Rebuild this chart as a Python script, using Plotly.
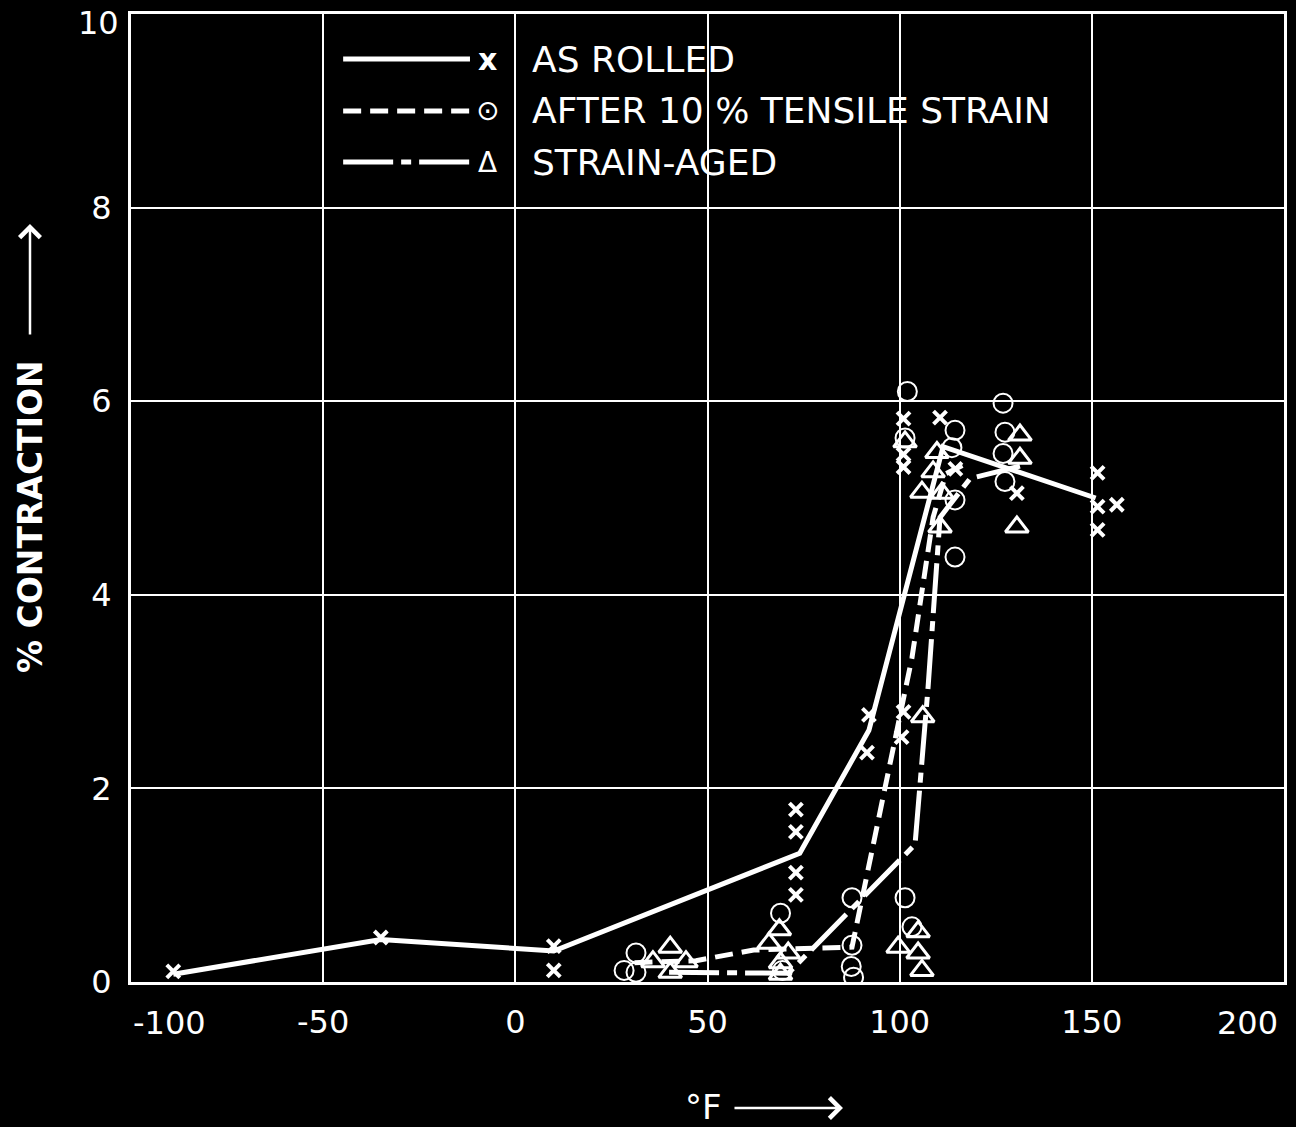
import plotly.graph_objects as go

# Axis ticks: temperature in °F, contraction in %
x_ticks = [-100, -50, 0, 50, 100, 150, 200]
y_ticks = [0, 2, 4, 6, 8, 10]
x_tick_labels = ["-100", "-50", "0", "50", "100", "150", "200"]
y_tick_labels = ["0", "2", "4", "6", "8", "10"]

series_names = ["AS ROLLED", "AFTER 10 % TENSILE STRAIN", "STRAIN-AGED"]

# Individual test results (x marks)
rolled_temp = [-89, -35, 10, 10, 73, 73, 73, 73, 92, 91.5, 101, 101, 101, 101, 100.5,
               110.5, 114.5, 130.5, 151.5, 151.5, 151.5, 156.5]
rolled_contr = [0.11, 0.46, 0.37, 0.12, 1.78, 1.55, 1.13, 0.90, 2.76, 2.37, 5.82, 5.45, 5.32,
                2.79, 2.53, 5.83, 5.30, 5.05, 5.26, 4.91, 4.67, 4.93]

# Individual test results (circles)
strained_temp = [31.4, 28.3, 31.4, 69, 69.5, 87.6, 87.6, 87.4, 88, 101.4, 103.2, 102, 101.4,
                 114.4, 113.6, 114.4, 114.4, 126.9, 127.4, 126.9, 127.4]
strained_contr = [0.30, 0.12, 0.10, 0.71, 0.12, 0.87, 0.38, 0.16, 0.05, 0.87, 0.57, 6.10, 5.62,
                  5.70, 5.52, 4.98, 4.39, 5.98, 5.68, 5.46, 5.17]

# Individual test results (triangles)
aged_temp = [35.8, 40.3, 44.4, 40.3, 66, 68.7, 71, 69, 69, 99.6, 104.8, 104.8, 105.8, 106,
             101.4, 109.7, 108.7, 105.8, 111, 110.5, 131.3, 131.3, 130.5]
aged_contr = [0.21, 0.36, 0.21, 0.10, 0.40, 0.54, 0.30, 0.20, 0.08, 0.36, 0.52, 0.30, 0.12, 2.74,
              5.58, 5.47, 5.27, 5.06, 5.05, 4.70, 5.65, 5.41, 4.70]

# Faired transition curves
rolled_curve_temp = [-89, -35, 10, 74, 92, 111.3, 151]
rolled_curve_contr = [0.08, 0.44, 0.32, 1.33, 2.60, 5.53, 5.00]
strained_curve_temp = [31, 47, 62, 87.6, 103.2, 108.7, 112, 117]
strained_curve_contr = [0.20, 0.22, 0.33, 0.36, 3.35, 4.80, 5.25, 5.35]
aged_curve_temp = [40, 71, 104, 107.4, 110.5, 118.3, 131.3]
aged_curve_contr = [0.10, 0.09, 1.42, 3.05, 4.80, 5.20, 5.33]

FONT = "DejaVu Sans"
WHITE = "white"
DASH = "18px,9px"
DASHDOT = "50px,8px,10px,8px"
TICK_FONT = dict(family=FONT, size=32, color=WHITE)

# labels at the ends of each scale are set just inside the frame (drawn below)
x_tick_text = [""] + x_tick_labels[1:-1] + [""]
y_tick_text = y_tick_labels[:-1] + [""]

fig = go.Figure()

# curves first, symbols on top
fig.add_trace(go.Scatter(x=rolled_curve_temp, y=rolled_curve_contr, mode="lines",
                         line=dict(color=WHITE, width=5), name=series_names[0]))
fig.add_trace(go.Scatter(x=strained_curve_temp, y=strained_curve_contr, mode="lines",
                         line=dict(color=WHITE, width=5, dash=DASH), name=series_names[1]))
fig.add_trace(go.Scatter(x=aged_curve_temp, y=aged_curve_contr, mode="lines",
                         line=dict(color=WHITE, width=5, dash=DASHDOT), name=series_names[2]))

fig.add_trace(go.Scatter(x=rolled_temp, y=rolled_contr, mode="markers", name=series_names[0],
                         marker=dict(symbol="x-thin-open", size=13, color=WHITE,
                                     line=dict(color=WHITE, width=4))))
fig.add_trace(go.Scatter(x=strained_temp, y=strained_contr, mode="markers", name=series_names[1],
                         marker=dict(symbol="circle-open", size=19, color=WHITE,
                                     line=dict(color=WHITE, width=2))))
fig.add_trace(go.Scatter(x=aged_temp, y=aged_contr, mode="markers", name=series_names[2],
                         marker=dict(symbol="triangle-up-open", size=20, color=WHITE,
                                     line=dict(color=WHITE, width=3))))

axis_common = dict(showgrid=True, gridcolor=WHITE, gridwidth=2, showline=True,
                   linecolor=WHITE, linewidth=3, mirror=True, zeroline=False, ticks="",
                   automargin=False, tickfont=TICK_FONT)

fig.update_xaxes(range=[x_ticks[0], x_ticks[-1]], tickvals=x_ticks, ticktext=x_tick_text,
                 ticklabelstandoff=10, **axis_common)
fig.update_yaxes(range=[y_ticks[0], y_ticks[-1]], tickvals=y_ticks, ticktext=y_tick_text,
                 ticklabelstandoff=10, **axis_common)

annotations = []
# end-of-scale tick labels
annotations.append(dict(xref="x", yref="paper", x=x_ticks[0], y=0, text=x_tick_labels[0],
                        showarrow=False, xanchor="left", yanchor="top", yshift=-20,
                        font=TICK_FONT))
annotations.append(dict(xref="x", yref="paper", x=x_ticks[-1], y=0, text=x_tick_labels[-1],
                        showarrow=False, xanchor="right", yanchor="top", yshift=-20,
                        xshift=-4, font=TICK_FONT))
annotations.append(dict(xref="paper", yref="y", x=0, y=y_ticks[-1], text=y_tick_labels[-1],
                        showarrow=False, xanchor="right", yanchor="top", xshift=-10,
                        yshift=12, font=TICK_FONT))

# Key drawn inside the grid: long line samples, symbol, caption
key_y = [0.9535, 0.8998, 0.8471]
key_dash = ["solid", DASH, DASHDOT]
key_glyph = ["<b>x</b>", "⊙", "Δ"]
key_glyph_size = [30, 28, 28]
shapes = []
for name, ky, dash, glyph, gs in zip(series_names, key_y, key_dash, key_glyph, key_glyph_size):
    shapes.append(dict(type="line", xref="paper", yref="paper", x0=0.184, x1=0.294,
                       y0=ky, y1=ky, line=dict(color=WHITE, width=5, dash=dash)))
    annotations.append(dict(xref="paper", yref="paper", x=0.3088, y=ky, text=glyph,
                            showarrow=False, xanchor="center", yanchor="middle",
                            font=dict(family=FONT, size=gs, color=WHITE)))
    annotations.append(dict(xref="paper", yref="paper", x=0.346, y=ky, text=name,
                            showarrow=False, xanchor="left", yanchor="middle",
                            font=dict(family=FONT, size=36, color=WHITE)))

# Axis titles with pointing arrows
annotations.append(dict(xref="paper", yref="paper", x=-0.0876, y=0.4814,
                        text="<b>% CONTRACTION</b>", textangle=-90, showarrow=False,
                        xanchor="center", yanchor="middle",
                        font=dict(family=FONT, size=33, color=WHITE)))
annotations.append(dict(xref="paper", yref="paper", x=-0.0876, y=0.7831, text="",
                        showarrow=True, ax=0, ay=112, arrowhead=4, arrowsize=1.6,
                        arrowwidth=2.5, arrowcolor=WHITE))
annotations.append(dict(xref="paper", yref="paper", x=0.4961, y=-0.1291, text="°F",
                        showarrow=False, xanchor="center", yanchor="middle",
                        font=dict(family=FONT, size=34, color=WHITE)))
annotations.append(dict(xref="paper", yref="paper", x=0.6175, y=-0.1302, text="",
                        showarrow=True, ax=-110, ay=0, arrowhead=4, arrowsize=1.6,
                        arrowwidth=2.5, arrowcolor=WHITE))

fig.update_layout(width=1296, height=1127, margin=dict(l=131, r=12, t=14, b=145),
                  paper_bgcolor="black", plot_bgcolor="black", showlegend=False,
                  font=dict(family=FONT, color=WHITE), shapes=shapes,
                  annotations=annotations)

fig.write_html("out.html")
